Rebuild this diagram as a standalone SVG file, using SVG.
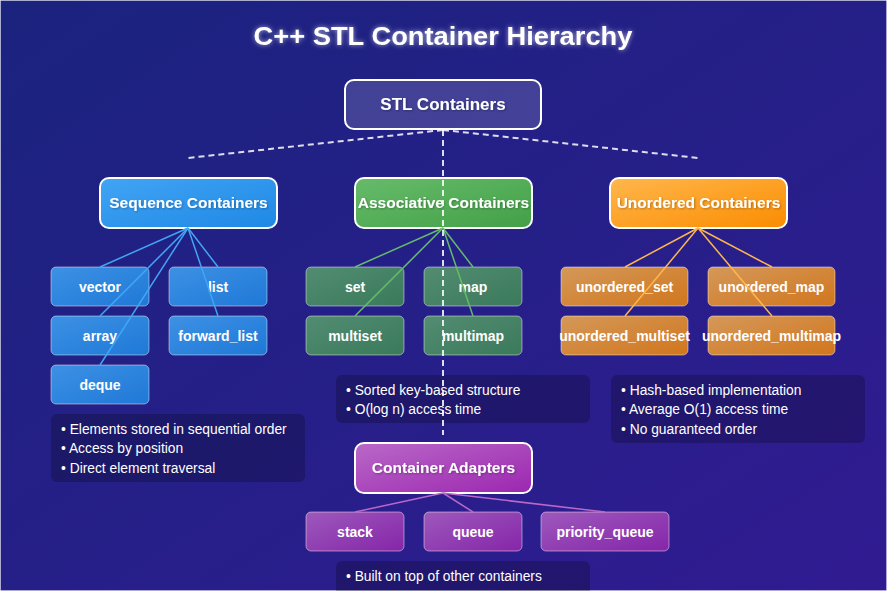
<svg xmlns="http://www.w3.org/2000/svg" width="887" height="591" viewBox="0 0 887 591">
<defs>
<linearGradient id="bg" x1="0" y1="0" x2="1" y2="1"><stop offset="0" stop-color="#1a237e"/><stop offset="1" stop-color="#311b92"/></linearGradient>
<linearGradient id="gBlue" x1="0" y1="0" x2="1" y2="1"><stop offset="0" stop-color="#42a5f5"/><stop offset="1" stop-color="#1e88e5"/></linearGradient>
<linearGradient id="gGreen" x1="0" y1="0" x2="1" y2="1"><stop offset="0" stop-color="#66bb6a"/><stop offset="1" stop-color="#43a047"/></linearGradient>
<linearGradient id="gOrange" x1="0" y1="0" x2="1" y2="1"><stop offset="0" stop-color="#ffb74d"/><stop offset="1" stop-color="#fb8c00"/></linearGradient>
<linearGradient id="gPurple" x1="0" y1="0" x2="1" y2="1"><stop offset="0" stop-color="#ba68c8"/><stop offset="1" stop-color="#9c27b0"/></linearGradient>
<filter id="glow" x="-20%" y="-50%" width="140%" height="200%"><feGaussianBlur in="SourceAlpha" stdDeviation="2.5" result="b"/><feFlood flood-color="#ffffff" flood-opacity="0.6"/><feComposite in2="b" operator="in" result="g"/><feMerge><feMergeNode in="g"/><feMergeNode in="SourceGraphic"/></feMerge></filter>
<filter id="sh" x="-10%" y="-30%" width="120%" height="160%"><feGaussianBlur in="SourceAlpha" stdDeviation="1" result="b"/><feOffset dx="1" dy="1" result="o"/><feFlood flood-color="#000" flood-opacity="0.3"/><feComposite in2="o" operator="in" result="s"/><feMerge><feMergeNode in="s"/><feMergeNode in="SourceGraphic"/></feMerge></filter>
</defs>
<style>
text{font-family:"Liberation Sans",Arial,sans-serif;fill:#fff}
.t{font-size:25px;font-weight:bold;text-anchor:middle}
.h{font-size:15.5px;font-weight:bold;text-anchor:middle}
.c{font-size:14px;font-weight:bold;text-anchor:middle}
.a{font-size:13.8px}
.main{stroke:#fff;stroke-width:2}
.sub{stroke:#fff;stroke-opacity:0.45;stroke-width:1}
.ann{fill:#000;fill-opacity:0.22}
.cb{fill:url(#gBlue);fill-opacity:0.85}
.cg{fill:url(#gGreen);fill-opacity:0.7}
.co{fill:url(#gOrange);fill-opacity:0.8}
.cp{fill:url(#gPurple);fill-opacity:0.8}
.lb{stroke:#42a5f5;stroke-width:1.5}
.lg{stroke:#66bb6a;stroke-width:1.5}
.lo{stroke:#ffb74d;stroke-width:1.5}
.lp{stroke:#ba68c8;stroke-width:1.5}
.dash{stroke:#fff;stroke-width:2;stroke-dasharray:6 4;fill:none;stroke-opacity:0.85}
</style>
<rect x="0.5" y="0.5" width="886" height="590" fill="url(#bg)" stroke="#ffffff" stroke-opacity="0.25"/>
<text class="t" x="443" y="45" textLength="379" lengthAdjust="spacingAndGlyphs" filter="url(#glow)">C++ STL Container Hierarchy</text>

<g id="stl"><rect class="main" x="345" y="80" width="196" height="49" rx="9" fill="#ffffff" fill-opacity="0.15"/><text class="h" x="443" y="110" style="font-size:17px" filter="url(#sh)">STL Containers</text></g>

<g id="seq"><rect class="main" x="100" y="178" width="177" height="50" rx="9" fill="url(#gBlue)"/><text class="h" x="188.5" y="208" filter="url(#sh)">Sequence Containers</text></g>
<g id="assoc"><rect class="main" x="355" y="178" width="177" height="50" rx="9" fill="url(#gGreen)"/><text class="h" x="443.5" y="208" filter="url(#sh)">Associative Containers</text></g>
<g id="unord"><rect class="main" x="610" y="178" width="177" height="50" rx="9" fill="url(#gOrange)"/><text class="h" x="698.5" y="208" filter="url(#sh)">Unordered Containers</text></g>

<g id="vector"><rect class="cb sub" x="51" y="267" width="98" height="39" rx="5"/><text class="c" x="100" y="292">vector</text></g>
<g id="list"><rect class="cb sub" x="169" y="267" width="98" height="39" rx="5"/><text class="c" x="218" y="292">list</text></g>
<g id="array"><rect class="cb sub" x="51" y="316" width="98" height="39" rx="5"/><text class="c" x="100" y="341">array</text></g>
<g id="forward_list"><rect class="cb sub" x="169" y="316" width="98" height="39" rx="5"/><text class="c" x="218" y="341">forward_list</text></g>
<g id="deque"><rect class="cb sub" x="51" y="365" width="98" height="39" rx="5"/><text class="c" x="100" y="390">deque</text></g>

<g id="set"><rect class="cg sub" x="306" y="267" width="98" height="39" rx="5"/><text class="c" x="355" y="292">set</text></g>
<g id="map"><rect class="cg sub" x="424" y="267" width="98" height="39" rx="5"/><text class="c" x="473" y="292">map</text></g>
<g id="multiset"><rect class="cg sub" x="306" y="316" width="98" height="39" rx="5"/><text class="c" x="355" y="341">multiset</text></g>
<g id="multimap"><rect class="cg sub" x="424" y="316" width="98" height="39" rx="5"/><text class="c" x="473" y="341">multimap</text></g>

<g id="unordered_set"><rect class="co sub" x="561" y="267" width="127" height="39" rx="5"/><text class="c" x="624.5" y="292">unordered_set</text></g>
<g id="unordered_map"><rect class="co sub" x="708" y="267" width="127" height="39" rx="5"/><text class="c" x="771.5" y="292">unordered_map</text></g>
<g id="unordered_multiset"><rect class="co sub" x="561" y="316" width="127" height="39" rx="5"/><text class="c" x="624.5" y="341">unordered_multiset</text></g>
<g id="unordered_multimap"><rect class="co sub" x="708" y="316" width="127" height="39" rx="5"/><text class="c" x="771.5" y="341">unordered_multimap</text></g>

<g id="seq-notes"><rect class="ann" x="51" y="414" width="254" height="68" rx="6"/>
<text class="a" x="61" y="434">• Elements stored in sequential order</text>
<text class="a" x="61" y="453">• Access by position</text>
<text class="a" x="61" y="473">• Direct element traversal</text></g>
<g id="assoc-notes"><rect class="ann" x="336" y="375" width="254" height="48" rx="6"/>
<text class="a" x="346" y="395">• Sorted key-based structure</text>
<text class="a" x="346" y="414">• O(log n) access time</text></g>
<g id="unord-notes"><rect class="ann" x="611" y="375" width="254" height="68" rx="6"/>
<text class="a" x="621" y="395">• Hash-based implementation</text>
<text class="a" x="621" y="414">• Average O(1) access time</text>
<text class="a" x="621" y="434">• No guaranteed order</text></g>

<g id="adapters"><rect class="main" x="355" y="443" width="177" height="50" rx="9" fill="url(#gPurple)"/><text class="h" x="443.5" y="473" filter="url(#sh)">Container Adapters</text></g>
<g id="stack"><rect class="cp sub" x="306" y="512" width="98" height="39" rx="5"/><text class="c" x="355" y="537">stack</text></g>
<g id="queue"><rect class="cp sub" x="424" y="512" width="98" height="39" rx="5"/><text class="c" x="473" y="537">queue</text></g>
<g id="priority_queue"><rect class="cp sub" x="541" y="512" width="128" height="39" rx="5"/><text class="c" x="605" y="537">priority_queue</text></g>
<g id="adapter-notes"><rect class="ann" x="336" y="561" width="254" height="40" rx="6"/>
<text class="a" x="346" y="581">• Built on top of other containers</text></g>

<g id="connectors" fill="none">
<line class="lb" x1="188" y1="228" x2="100" y2="267"/>
<line class="lb" x1="188" y1="228" x2="100" y2="316"/>
<line class="lb" x1="188" y1="228" x2="100" y2="365"/>
<line class="lb" x1="188" y1="228" x2="218" y2="267"/>
<line class="lb" x1="188" y1="228" x2="218" y2="316"/>
<line class="lg" x1="443" y1="228" x2="355" y2="267"/>
<line class="lg" x1="443" y1="228" x2="355" y2="316"/>
<line class="lg" x1="443" y1="228" x2="473" y2="267"/>
<line class="lg" x1="443" y1="228" x2="473" y2="316"/>
<line class="lo" x1="698" y1="228" x2="625" y2="267"/>
<line class="lo" x1="698" y1="228" x2="625" y2="316"/>
<line class="lo" x1="698" y1="228" x2="772" y2="267"/>
<line class="lo" x1="698" y1="228" x2="772" y2="316"/>
<line class="lp" x1="443" y1="493" x2="355" y2="512"/>
<line class="lp" x1="443" y1="493" x2="473" y2="512"/>
<line class="lp" x1="443" y1="493" x2="605" y2="512"/>
<line class="dash" x1="443" y1="130" x2="188" y2="158"/>
<line class="dash" x1="443" y1="130" x2="698" y2="158"/>
<line class="dash" x1="443" y1="130" x2="443" y2="435"/>
</g>
</svg>
